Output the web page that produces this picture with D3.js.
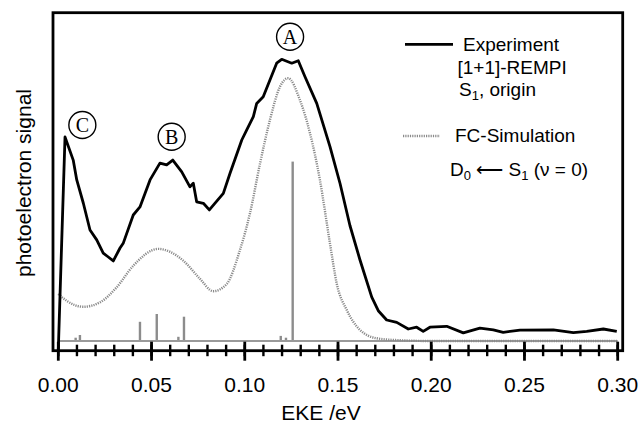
<!DOCTYPE html>
<html>
<head>
<meta charset="utf-8">
<script src="https://cdn.jsdelivr.net/npm/d3@7"></script>
<style>
  html, body { margin: 0; padding: 0; background: #fff; }
  svg { display: block; }
  text { font-family: "Liberation Sans", Arial, Helvetica, sans-serif; }
</style>
</head>
<body>
<svg id="chart" width="640" height="428"></svg>
<script>
// ---- data ----
const expE = [0.0000, 0.0036, 0.0080, 0.0099, 0.0134, 0.0170, 0.0206, 0.0241, 0.0268, 0.0295,
              0.0331, 0.0349, 0.0402, 0.0438, 0.0492, 0.0545, 0.0581, 0.0614, 0.0662, 0.0706,
              0.0724, 0.0742, 0.0778, 0.0810, 0.0885, 0.0921, 0.0984, 0.1010, 0.1046, 0.1064,
              0.1099, 0.1135, 0.1171, 0.1198, 0.1252, 0.1287, 0.1323, 0.1386, 0.1457, 0.1511,
              0.1564, 0.1618, 0.1681, 0.1716, 0.1761, 0.1815, 0.1877, 0.1922, 0.1957, 0.1993,
              0.2083, 0.2172, 0.2261, 0.2333, 0.2386, 0.2476, 0.2655, 0.2762, 0.2834, 0.2923, 0.2995];
const expS = [-3, 68, 60.3, 53.7, 46, 37, 33.7, 29.3, 28, 26.7,
              31, 32.7, 42, 44.7, 53.7, 59.3, 58.7, 60.3, 56.4, 51.4,
              52.6, 46.4, 45.9, 43.7, 49.2, 55.9, 67, 70.3, 74.8, 79.2,
              81.4, 87, 92.6, 93.9, 92.6, 93.4, 88.1, 79.2, 64.8, 52.5,
              38.5, 27, 14.6, 10.1, 7, 6.2, 4, 4.6, 3.2, 4.6,
              4.9, 2.7, 4.3, 3.7, 2.9, 3.6, 3.7, 2.8, 3.2, 4, 3.2];

const simE = [0.0000, 0.0045, 0.0134, 0.0224, 0.0313, 0.0402, 0.0536, 0.0670, 0.0760, 0.0831,
              0.0903, 0.0974, 0.1028, 0.1082, 0.1135, 0.1189, 0.1233, 0.1296, 0.1350, 0.1403,
              0.1457, 0.1493, 0.1547, 0.1618, 0.1708, 0.1815, 0.2000, 0.3000];
const simS = [15.7, 13.4, 11.4, 12.9, 17.9, 25.1, 30.7, 26.8, 20.7, 16.6,
              19, 30.3, 42.6, 59.2, 73.7, 84.8, 87.6, 80.3, 69.2, 53.7,
              32.5, 19.2, 10.3, 3.7, 0.9, 0.3, 0, 0];

const stickE = [0.0093, 0.0116, 0.0438, 0.0528, 0.0644, 0.0674, 0.0876, 0.1193, 0.1221, 0.1257];
const stickS = [1.1, 2.0, 6.4, 9.0, 1.4, 8.1, 0.3, 1.7, 1.1, 59.8];

const xTicks = [0.00, 0.05, 0.10, 0.15, 0.20, 0.25, 0.30];
const xTickLabels = ["0.00", "0.05", "0.10", "0.15", "0.20", "0.25", "0.30"];
const minorTicks = d3.range(0, 31).map(i => i / 100);

const peakLabels = ["C", "B", "A"];
const peakE = [0.0129, 0.0608, 0.1243];
const peakS = [72, 68.1, 101.4];

// ---- drawing ----
const svg = d3.select("#chart");
const x = d3.scaleLinear().domain([0, 0.3]).range([58.3, 617.7]);
const y = d3.scaleLinear().domain([0, 100]).range([341, 41]);

const frame = { left: 53, right: 622.7, top: 12.7, bottom: 350.7 };

// sticks
svg.append("g").selectAll("line").data(stickE).join("line")
  .attr("x1", d => x(d)).attr("x2", d => x(d))
  .attr("y1", y(0)).attr("y2", (d, i) => y(stickS[i]))
  .attr("stroke", "#8c8c8c").attr("stroke-width", 2.4);

// stick baseline
svg.append("line")
  .attr("x1", x(0)).attr("x2", x(0.3))
  .attr("y1", y(0)).attr("y2", y(0))
  .attr("stroke", "#9a9a9a").attr("stroke-width", 2.2);

// simulation (dotted)
const simLine = d3.line().x(d => x(d[0])).y(d => y(d[1])).curve(d3.curveMonotoneX);
svg.append("path")
  .datum(simE.map((e, i) => [e, simS[i]]))
  .attr("d", simLine)
  .attr("fill", "none").attr("stroke", "#8a8a8a")
  .attr("stroke-width", 2.4).attr("stroke-dasharray", "1.2,1.1");

// experiment
const expLine = d3.line().x(d => x(d[0])).y(d => y(d[1]));
svg.append("path")
  .datum(expE.map((e, i) => [e, expS[i]]))
  .attr("d", expLine)
  .attr("fill", "none").attr("stroke", "#000")
  .attr("stroke-width", 2.8).attr("stroke-linejoin", "round");

// frame
svg.append("rect")
  .attr("x", frame.left).attr("y", frame.top)
  .attr("width", frame.right - frame.left).attr("height", frame.bottom - frame.top)
  .attr("fill", "none").attr("stroke", "#000").attr("stroke-width", 2.8);

// ticks crossing bottom axis
svg.append("g").selectAll("line").data(minorTicks).join("line")
  .attr("x1", d => x(d)).attr("x2", d => x(d))
  .attr("y1", frame.bottom - 6).attr("y2", frame.bottom + 5.5)
  .attr("stroke", "#000").attr("stroke-width", 2.4);
svg.append("g").selectAll("line").data(xTicks).join("line")
  .attr("x1", d => x(d)).attr("x2", d => x(d))
  .attr("y1", frame.bottom - 9).attr("y2", frame.bottom + 10)
  .attr("stroke", "#000").attr("stroke-width", 2.8);

// tick labels
svg.append("g").selectAll("text").data(xTicks).join("text")
  .attr("x", d => x(d)).attr("y", 392)
  .attr("text-anchor", "middle").attr("font-size", 21)
  .text((d, i) => xTickLabels[i]);

// axis titles
svg.append("text").attr("x", 321).attr("y", 420)
  .attr("text-anchor", "middle").attr("font-size", 21).text("EKE /eV");
svg.append("text")
  .attr("transform", "translate(31,183) rotate(-90)")
  .attr("text-anchor", "middle").attr("font-size", 21).text("photoelectron signal");

// circled peak labels
const pk = svg.append("g");
peakLabels.forEach((l, i) => {
  const cx = x(peakE[i]), cy = y(peakS[i]);
  pk.append("circle").attr("cx", cx).attr("cy", cy).attr("r", 13.5)
    .attr("fill", "#fff").attr("stroke", "#000").attr("stroke-width", 1.4);
  pk.append("text").attr("x", cx).attr("y", cy + 7)
    .attr("text-anchor", "middle").attr("font-size", 20)
    .style("font-family", "'Liberation Serif', 'Times New Roman', serif")
    .text(l);
});

// legend
const lg = svg.append("g").attr("font-size", 19);
lg.append("line").attr("x1", 405).attr("x2", 453).attr("y1", 44.3).attr("y2", 44.3)
  .attr("stroke", "#000").attr("stroke-width", 2.8);
lg.append("text").attr("x", 463).attr("y", 50.5).text("Experiment");
lg.append("text").attr("x", 457.5).attr("y", 73.5).text("[1+1]-REMPI");
const t3 = lg.append("text").attr("x", 459).attr("y", 95.5);
t3.append("tspan").text("S");
t3.append("tspan").attr("font-size", 13).attr("dy", 4).text("1");
t3.append("tspan").attr("dy", -4).text(", origin");

lg.append("line").attr("x1", 403).attr("x2", 440).attr("y1", 136).attr("y2", 136)
  .attr("stroke", "#8a8a8a").attr("stroke-width", 2.4).attr("stroke-dasharray", "1.2,1.1");
lg.append("text").attr("x", 455).attr("y", 141.5).text("FC-Simulation");
const t5 = lg.append("text").attr("x", 450).attr("y", 176);
t5.append("tspan").text("D");
t5.append("tspan").attr("font-size", 13).attr("dy", 4).text("0");
t5.append("tspan").attr("dy", -4).text(" \u27F5 S");
t5.append("tspan").attr("font-size", 13).attr("dy", 4).text("1");
t5.append("tspan").attr("dy", -4).text(" (\u03BD = 0)");
</script>
</body>
</html>
